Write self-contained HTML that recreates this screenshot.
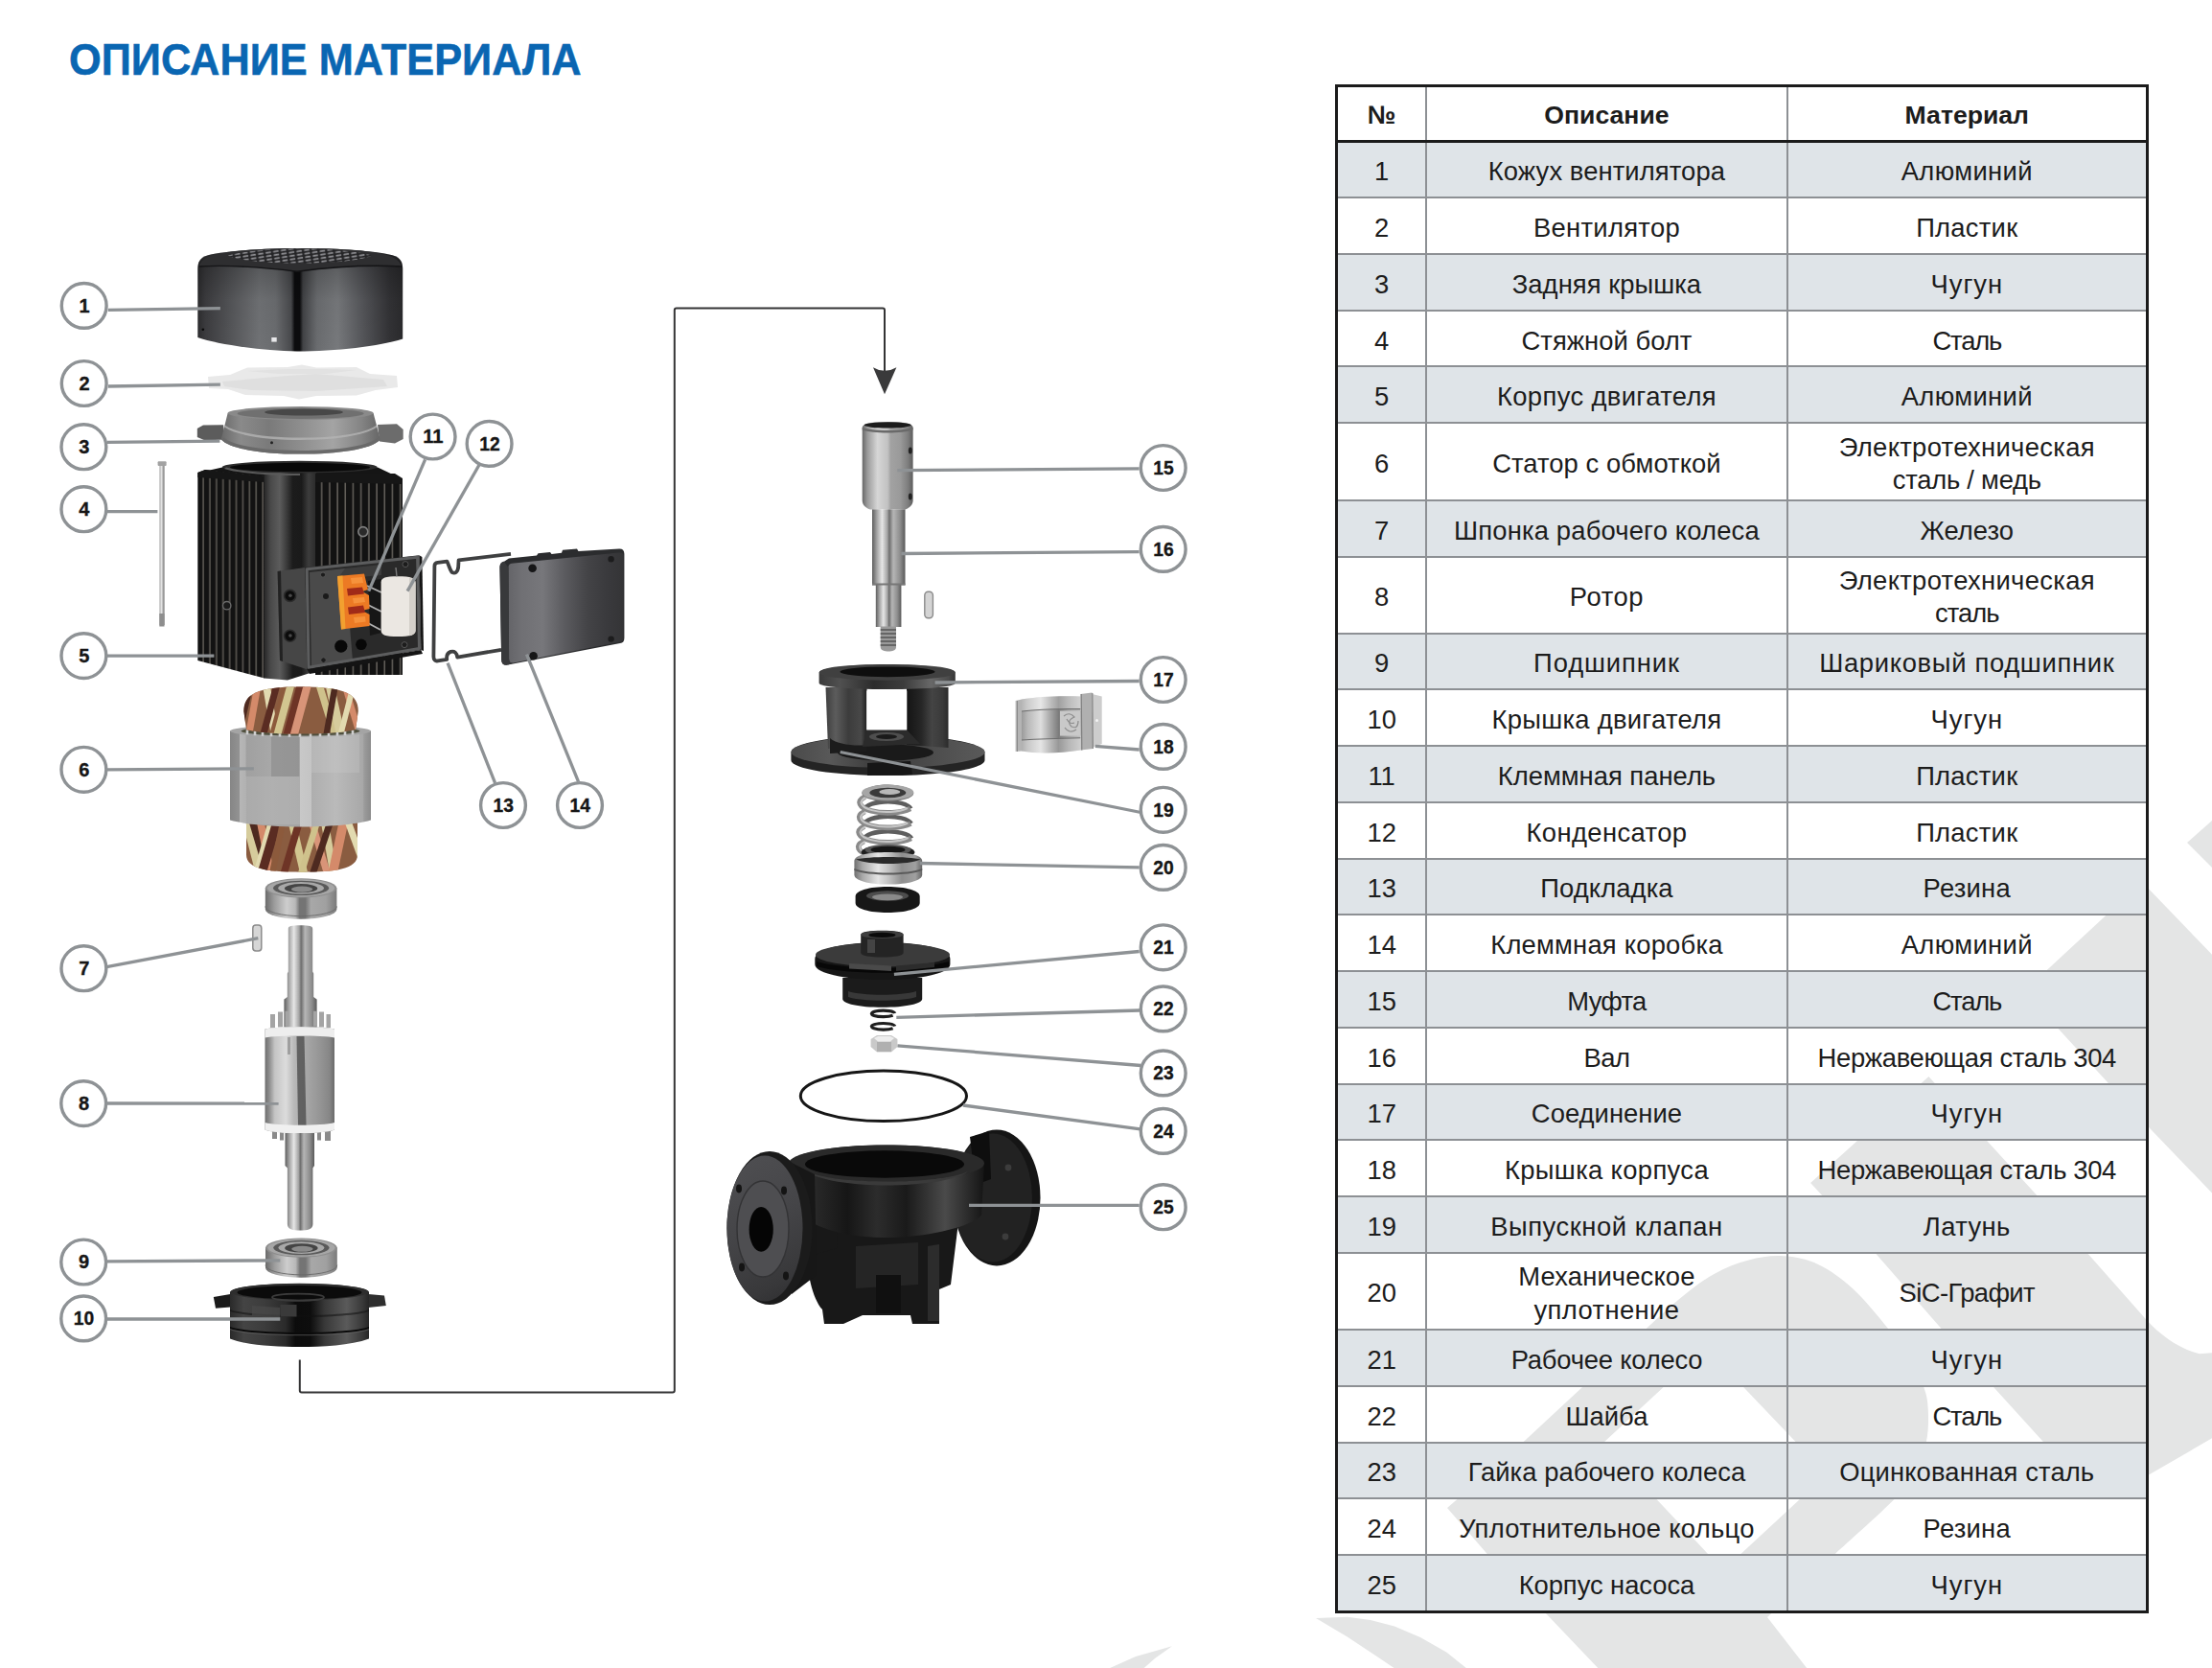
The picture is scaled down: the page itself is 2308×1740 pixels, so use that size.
<!DOCTYPE html>
<html><head><meta charset="utf-8"><title>Описание материала</title>
<style>
html,body{margin:0;padding:0;background:#fff}
body{width:2308px;height:1740px;position:relative;overflow:hidden;font-family:"Liberation Sans",sans-serif;color:#1c1c1c}
.c{position:absolute;display:flex;align-items:center;justify-content:center;text-align:center;line-height:34.3px;white-space:nowrap}
</style></head><body>
<svg style="position:absolute;left:0;top:0" width="2308" height="1740" viewBox="0 0 2308 1740"><g fill="#e4e5e5">
<path d="M2282.0,879.0 L2312.0,852.5 L2312.0,909.0Z" />
<path d="M2235.0,920.0 L2112.0,1034.0 L2146.8,1072.3 L2199.7,1129.8 L2244.5,1178.5 L2312.0,1248.6 L2312.0,1000.0Z" />
<path d="M2012.4,1123 L2072.7,1189.5 L2125.6,1247.2 L2178.7,1307.9 L2239.5,1376.7 C2254,1393 2276,1408 2295,1412.3 L2312,1411 L2312,1498 L2242,1538.6 C2203,1561 2165,1541 2131.9,1504 L2080.1,1446.9 L2026,1386.5 L1957,1307.6 L1901.4,1247.2 L1889.1,1233.9 Z"/>
<path fill-rule="evenodd" d="M1510,1573 L1590.5,1503.3 L1651.6,1446.5 C1662.7,1436.4 1701.2,1401.0 1718.0,1385.8 C1734.8,1370.6 1740.5,1364.6 1752.3,1355.1 C1764.0,1345.6 1776.4,1335.7 1788.5,1328.9 C1800.6,1322.1 1812.7,1317.5 1824.7,1314.4 C1836.8,1311.3 1848.8,1309.5 1860.8,1310.3 C1872.8,1311.0 1884.9,1313.2 1897.0,1318.9 C1909.1,1324.6 1921.2,1333.2 1933.2,1344.2 C1945.2,1355.2 1959.5,1372.7 1969.3,1385.0 C1979.1,1397.3 1985.7,1407.6 1992.0,1418.0 C1998.3,1428.4 2004.0,1438.5 2007.3,1447.3 C2010.6,1456.1 2011.3,1461.4 2011.8,1470.8 C2012.2,1480.2 2012.3,1492.4 2010.0,1503.4 C2007.7,1514.4 2003.7,1526.8 1998.0,1537.0 C1992.3,1547.2 1989.8,1550.5 1976.0,1564.5 C1962.2,1578.5 1925.1,1611.5 1914.9,1620.9 L1844,1687 L1889,1745 L1672,1745 L1611,1681 L1551.7,1620.9 Z M1780.0,1406.0 L1906.0,1538.0 L1798.0,1638.0 L1673.0,1505.0Z"/>
<path d="M1373.0,1688.0 L1405.8,1686.7 L1430.0,1690.0 L1455.0,1696.5 L1482.0,1708.0 L1509.6,1723.8 L1536.0,1745.0 L1462.0,1745.0 L1438.6,1729.3 L1405.8,1707.5Z" />
<path d="M1147.0,1745.0 L1185.0,1728.0 L1222.9,1717.3 L1205.0,1730.0 L1188.0,1745.0Z" />
</g></svg>
<div style="position:absolute;left:1393.0px;top:147.5px;width:849.0px;height:58.80000000000001px;background:#dfe4e8"></div>
<div style="position:absolute;left:1393.0px;top:264.9px;width:849.0px;height:58.900000000000034px;background:#dfe4e8"></div>
<div style="position:absolute;left:1393.0px;top:382.3px;width:849.0px;height:58.89999999999998px;background:#dfe4e8"></div>
<div style="position:absolute;left:1393.0px;top:522.0px;width:849.0px;height:58.700000000000045px;background:#dfe4e8"></div>
<div style="position:absolute;left:1393.0px;top:660.5px;width:849.0px;height:58.299999999999955px;background:#dfe4e8"></div>
<div style="position:absolute;left:1393.0px;top:777.9px;width:849.0px;height:59.0px;background:#dfe4e8"></div>
<div style="position:absolute;left:1393.0px;top:895.6px;width:849.0px;height:58.69999999999993px;background:#dfe4e8"></div>
<div style="position:absolute;left:1393.0px;top:1013.0px;width:849.0px;height:58.700000000000045px;background:#dfe4e8"></div>
<div style="position:absolute;left:1393.0px;top:1130.5px;width:849.0px;height:58.700000000000045px;background:#dfe4e8"></div>
<div style="position:absolute;left:1393.0px;top:1248.2px;width:849.0px;height:58.700000000000045px;background:#dfe4e8"></div>
<div style="position:absolute;left:1393.0px;top:1387.0px;width:849.0px;height:58.799999999999955px;background:#dfe4e8"></div>
<div style="position:absolute;left:1393.0px;top:1504.5px;width:849.0px;height:58.700000000000045px;background:#dfe4e8"></div>
<div style="position:absolute;left:1393.0px;top:1622.0px;width:849.0px;height:59.200000000000045px;background:#dfe4e8"></div>
<div style="position:absolute;left:1393.0px;top:205.3px;width:849.0px;height:2px;background:#8d9094"></div>
<div style="position:absolute;left:1393.0px;top:263.9px;width:849.0px;height:2px;background:#8d9094"></div>
<div style="position:absolute;left:1393.0px;top:322.8px;width:849.0px;height:2px;background:#8d9094"></div>
<div style="position:absolute;left:1393.0px;top:381.3px;width:849.0px;height:2px;background:#8d9094"></div>
<div style="position:absolute;left:1393.0px;top:440.2px;width:849.0px;height:2px;background:#8d9094"></div>
<div style="position:absolute;left:1393.0px;top:521.0px;width:849.0px;height:2px;background:#8d9094"></div>
<div style="position:absolute;left:1393.0px;top:579.7px;width:849.0px;height:2px;background:#8d9094"></div>
<div style="position:absolute;left:1393.0px;top:659.5px;width:849.0px;height:2px;background:#8d9094"></div>
<div style="position:absolute;left:1393.0px;top:717.8px;width:849.0px;height:2px;background:#8d9094"></div>
<div style="position:absolute;left:1393.0px;top:776.9px;width:849.0px;height:2px;background:#8d9094"></div>
<div style="position:absolute;left:1393.0px;top:835.9px;width:849.0px;height:2px;background:#8d9094"></div>
<div style="position:absolute;left:1393.0px;top:894.6px;width:849.0px;height:2px;background:#8d9094"></div>
<div style="position:absolute;left:1393.0px;top:953.3px;width:849.0px;height:2px;background:#8d9094"></div>
<div style="position:absolute;left:1393.0px;top:1012.0px;width:849.0px;height:2px;background:#8d9094"></div>
<div style="position:absolute;left:1393.0px;top:1070.7px;width:849.0px;height:2px;background:#8d9094"></div>
<div style="position:absolute;left:1393.0px;top:1129.5px;width:849.0px;height:2px;background:#8d9094"></div>
<div style="position:absolute;left:1393.0px;top:1188.2px;width:849.0px;height:2px;background:#8d9094"></div>
<div style="position:absolute;left:1393.0px;top:1247.2px;width:849.0px;height:2px;background:#8d9094"></div>
<div style="position:absolute;left:1393.0px;top:1305.9px;width:849.0px;height:2px;background:#8d9094"></div>
<div style="position:absolute;left:1393.0px;top:1386.0px;width:849.0px;height:2px;background:#8d9094"></div>
<div style="position:absolute;left:1393.0px;top:1444.8px;width:849.0px;height:2px;background:#8d9094"></div>
<div style="position:absolute;left:1393.0px;top:1503.5px;width:849.0px;height:2px;background:#8d9094"></div>
<div style="position:absolute;left:1393.0px;top:1562.2px;width:849.0px;height:2px;background:#8d9094"></div>
<div style="position:absolute;left:1393.0px;top:1621.0px;width:849.0px;height:2px;background:#8d9094"></div>
<div style="position:absolute;left:1487.3px;top:87.6px;width:2px;height:1595.1000000000001px;background:#8d9094"></div>
<div style="position:absolute;left:1863.6px;top:87.6px;width:2px;height:1595.1000000000001px;background:#8d9094"></div>
<div style="position:absolute;left:1393.0px;top:146.1px;width:849.0px;height:2.9px;background:#1b1b1b"></div>
<div style="position:absolute;left:1393.0px;top:87.6px;width:843.0px;height:1589.1000000000001px;border:3px solid #1b1b1b"></div>
<div class="c" style="left:1396.0px;top:91.39999999999999px;width:91.29999999999995px;height:58.400000000000006px;font-weight:bold;font-size:26.6px"><span>№</span></div>
<div class="c" style="left:1489.3px;top:91.39999999999999px;width:374.29999999999995px;height:58.400000000000006px;font-weight:bold;font-size:26.6px"><span>Описание</span></div>
<div class="c" style="left:1865.6px;top:91.39999999999999px;width:373.4000000000001px;height:58.400000000000006px;font-weight:bold;font-size:26.6px"><span>Материал</span></div>
<div class="c" style="left:1396.0px;top:150.2px;width:91.29999999999995px;height:58.80000000000001px;font-size:27.4px"><span>1</span></div>
<div class="c" style="left:1489.3px;top:150.2px;width:374.29999999999995px;height:58.80000000000001px;font-size:27.4px"><span><span style="letter-spacing:0.09px">Кожух вентилятора</span></span></div>
<div class="c" style="left:1865.6px;top:150.2px;width:373.4000000000001px;height:58.80000000000001px;font-size:27.4px"><span><span style="letter-spacing:0.34px">Алюминий</span></span></div>
<div class="c" style="left:1396.0px;top:209.0px;width:91.29999999999995px;height:58.599999999999966px;font-size:27.4px"><span>2</span></div>
<div class="c" style="left:1489.3px;top:209.0px;width:374.29999999999995px;height:58.599999999999966px;font-size:27.4px"><span><span style="letter-spacing:0.31px">Вентилятор</span></span></div>
<div class="c" style="left:1865.6px;top:209.0px;width:373.4000000000001px;height:58.599999999999966px;font-size:27.4px"><span><span style="letter-spacing:0.27px">Пластик</span></span></div>
<div class="c" style="left:1396.0px;top:267.59999999999997px;width:91.29999999999995px;height:58.900000000000034px;font-size:27.4px"><span>3</span></div>
<div class="c" style="left:1489.3px;top:267.59999999999997px;width:374.29999999999995px;height:58.900000000000034px;font-size:27.4px"><span><span style="letter-spacing:0.04px">Задняя крышка</span></span></div>
<div class="c" style="left:1865.6px;top:267.59999999999997px;width:373.4000000000001px;height:58.900000000000034px;font-size:27.4px"><span><span style="letter-spacing:0.93px">Чугун</span></span></div>
<div class="c" style="left:1396.0px;top:326.5px;width:91.29999999999995px;height:58.5px;font-size:27.4px"><span>4</span></div>
<div class="c" style="left:1489.3px;top:326.5px;width:374.29999999999995px;height:58.5px;font-size:27.4px"><span><span style="letter-spacing:0.02px">Стяжной болт</span></span></div>
<div class="c" style="left:1865.6px;top:326.5px;width:373.4000000000001px;height:58.5px;font-size:27.4px"><span><span style="letter-spacing:-1.2px">Сталь</span></span></div>
<div class="c" style="left:1396.0px;top:385.0px;width:91.29999999999995px;height:58.89999999999998px;font-size:27.4px"><span>5</span></div>
<div class="c" style="left:1489.3px;top:385.0px;width:374.29999999999995px;height:58.89999999999998px;font-size:27.4px"><span><span style="letter-spacing:0.37px">Корпус двигателя</span></span></div>
<div class="c" style="left:1865.6px;top:385.0px;width:373.4000000000001px;height:58.89999999999998px;font-size:27.4px"><span><span style="letter-spacing:0.34px">Алюминий</span></span></div>
<div class="c" style="left:1396.0px;top:443.9px;width:91.29999999999995px;height:80.80000000000001px;font-size:27.4px"><span>6</span></div>
<div class="c" style="left:1489.3px;top:443.9px;width:374.29999999999995px;height:80.80000000000001px;font-size:27.4px"><span><span style="letter-spacing:0.07px">Статор с обмоткой</span></span></div>
<div class="c" style="left:1865.6px;top:443.9px;width:373.4000000000001px;height:80.80000000000001px;font-size:27.4px"><span><span style="letter-spacing:0.31px">Электротехническая</span><br><span style="letter-spacing:-0.23px">сталь / медь</span></span></div>
<div class="c" style="left:1396.0px;top:524.7px;width:91.29999999999995px;height:58.700000000000045px;font-size:27.4px"><span>7</span></div>
<div class="c" style="left:1489.3px;top:524.7px;width:374.29999999999995px;height:58.700000000000045px;font-size:27.4px"><span><span style="letter-spacing:0.16px">Шпонка рабочего колеса</span></span></div>
<div class="c" style="left:1865.6px;top:524.7px;width:373.4000000000001px;height:58.700000000000045px;font-size:27.4px"><span>Железо</span></div>
<div class="c" style="left:1396.0px;top:583.4000000000001px;width:91.29999999999995px;height:79.79999999999995px;font-size:27.4px"><span>8</span></div>
<div class="c" style="left:1489.3px;top:583.4000000000001px;width:374.29999999999995px;height:79.79999999999995px;font-size:27.4px"><span><span style="letter-spacing:0.55px">Ротор</span></span></div>
<div class="c" style="left:1865.6px;top:583.4000000000001px;width:373.4000000000001px;height:79.79999999999995px;font-size:27.4px"><span><span style="letter-spacing:0.31px">Электротехническая</span><br><span style="letter-spacing:-1.0px">сталь</span></span></div>
<div class="c" style="left:1396.0px;top:663.2px;width:91.29999999999995px;height:58.299999999999955px;font-size:27.4px"><span>9</span></div>
<div class="c" style="left:1489.3px;top:663.2px;width:374.29999999999995px;height:58.299999999999955px;font-size:27.4px"><span><span style="letter-spacing:0.88px">Подшипник</span></span></div>
<div class="c" style="left:1865.6px;top:663.2px;width:373.4000000000001px;height:58.299999999999955px;font-size:27.4px"><span><span style="letter-spacing:0.67px">Шариковый подшипник</span></span></div>
<div class="c" style="left:1396.0px;top:721.5px;width:91.29999999999995px;height:59.10000000000002px;font-size:27.4px"><span>10</span></div>
<div class="c" style="left:1489.3px;top:721.5px;width:374.29999999999995px;height:59.10000000000002px;font-size:27.4px"><span><span style="letter-spacing:0.28px">Крышка двигателя</span></span></div>
<div class="c" style="left:1865.6px;top:721.5px;width:373.4000000000001px;height:59.10000000000002px;font-size:27.4px"><span><span style="letter-spacing:0.93px">Чугун</span></span></div>
<div class="c" style="left:1396.0px;top:780.6px;width:91.29999999999995px;height:59.0px;font-size:27.4px"><span>11</span></div>
<div class="c" style="left:1489.3px;top:780.6px;width:374.29999999999995px;height:59.0px;font-size:27.4px"><span>Клеммная панель</span></div>
<div class="c" style="left:1865.6px;top:780.6px;width:373.4000000000001px;height:59.0px;font-size:27.4px"><span><span style="letter-spacing:0.27px">Пластик</span></span></div>
<div class="c" style="left:1396.0px;top:839.6px;width:91.29999999999995px;height:58.700000000000045px;font-size:27.4px"><span>12</span></div>
<div class="c" style="left:1489.3px;top:839.6px;width:374.29999999999995px;height:58.700000000000045px;font-size:27.4px"><span><span style="letter-spacing:0.4px">Конденсатор</span></span></div>
<div class="c" style="left:1865.6px;top:839.6px;width:373.4000000000001px;height:58.700000000000045px;font-size:27.4px"><span><span style="letter-spacing:0.27px">Пластик</span></span></div>
<div class="c" style="left:1396.0px;top:898.3000000000001px;width:91.29999999999995px;height:58.69999999999993px;font-size:27.4px"><span>13</span></div>
<div class="c" style="left:1489.3px;top:898.3000000000001px;width:374.29999999999995px;height:58.69999999999993px;font-size:27.4px"><span><span style="letter-spacing:0.09px">Подкладка</span></span></div>
<div class="c" style="left:1865.6px;top:898.3000000000001px;width:373.4000000000001px;height:58.69999999999993px;font-size:27.4px"><span><span style="letter-spacing:0.24px">Резина</span></span></div>
<div class="c" style="left:1396.0px;top:957.0px;width:91.29999999999995px;height:58.700000000000045px;font-size:27.4px"><span>14</span></div>
<div class="c" style="left:1489.3px;top:957.0px;width:374.29999999999995px;height:58.700000000000045px;font-size:27.4px"><span><span style="letter-spacing:0.2px">Клеммная коробка</span></span></div>
<div class="c" style="left:1865.6px;top:957.0px;width:373.4000000000001px;height:58.700000000000045px;font-size:27.4px"><span><span style="letter-spacing:0.34px">Алюминий</span></span></div>
<div class="c" style="left:1396.0px;top:1015.7px;width:91.29999999999995px;height:58.700000000000045px;font-size:27.4px"><span>15</span></div>
<div class="c" style="left:1489.3px;top:1015.7px;width:374.29999999999995px;height:58.700000000000045px;font-size:27.4px"><span><span style="letter-spacing:-0.75px">Муфта</span></span></div>
<div class="c" style="left:1865.6px;top:1015.7px;width:373.4000000000001px;height:58.700000000000045px;font-size:27.4px"><span><span style="letter-spacing:-1.2px">Сталь</span></span></div>
<div class="c" style="left:1396.0px;top:1074.4px;width:91.29999999999995px;height:58.799999999999955px;font-size:27.4px"><span>16</span></div>
<div class="c" style="left:1489.3px;top:1074.4px;width:374.29999999999995px;height:58.799999999999955px;font-size:27.4px"><span><span style="letter-spacing:-0.5px">Вал</span></span></div>
<div class="c" style="left:1865.6px;top:1074.4px;width:373.4000000000001px;height:58.799999999999955px;font-size:27.4px"><span><span style="letter-spacing:-0.35px">Нержавеющая сталь 304</span></span></div>
<div class="c" style="left:1396.0px;top:1133.2px;width:91.29999999999995px;height:58.700000000000045px;font-size:27.4px"><span>17</span></div>
<div class="c" style="left:1489.3px;top:1133.2px;width:374.29999999999995px;height:58.700000000000045px;font-size:27.4px"><span><span style="letter-spacing:0.02px">Соединение</span></span></div>
<div class="c" style="left:1865.6px;top:1133.2px;width:373.4000000000001px;height:58.700000000000045px;font-size:27.4px"><span><span style="letter-spacing:0.93px">Чугун</span></span></div>
<div class="c" style="left:1396.0px;top:1191.9px;width:91.29999999999995px;height:59.0px;font-size:27.4px"><span>18</span></div>
<div class="c" style="left:1489.3px;top:1191.9px;width:374.29999999999995px;height:59.0px;font-size:27.4px"><span><span style="letter-spacing:0.35px">Крышка корпуса</span></span></div>
<div class="c" style="left:1865.6px;top:1191.9px;width:373.4000000000001px;height:59.0px;font-size:27.4px"><span><span style="letter-spacing:-0.35px">Нержавеющая сталь 304</span></span></div>
<div class="c" style="left:1396.0px;top:1250.9px;width:91.29999999999995px;height:58.700000000000045px;font-size:27.4px"><span>19</span></div>
<div class="c" style="left:1489.3px;top:1250.9px;width:374.29999999999995px;height:58.700000000000045px;font-size:27.4px"><span><span style="letter-spacing:0.55px">Выпускной клапан</span></span></div>
<div class="c" style="left:1865.6px;top:1250.9px;width:373.4000000000001px;height:58.700000000000045px;font-size:27.4px"><span><span style="letter-spacing:0.4px">Латунь</span></span></div>
<div class="c" style="left:1396.0px;top:1309.6000000000001px;width:91.29999999999995px;height:80.09999999999991px;font-size:27.4px"><span>20</span></div>
<div class="c" style="left:1489.3px;top:1309.6000000000001px;width:374.29999999999995px;height:80.09999999999991px;font-size:27.4px"><span><span style="letter-spacing:0.12px">Механическое</span><br><span style="letter-spacing:0.38px">уплотнение</span></span></div>
<div class="c" style="left:1865.6px;top:1309.6000000000001px;width:373.4000000000001px;height:80.09999999999991px;font-size:27.4px"><span><span style="letter-spacing:-0.6px">SiC-Графит</span></span></div>
<div class="c" style="left:1396.0px;top:1389.7px;width:91.29999999999995px;height:58.799999999999955px;font-size:27.4px"><span>21</span></div>
<div class="c" style="left:1489.3px;top:1389.7px;width:374.29999999999995px;height:58.799999999999955px;font-size:27.4px"><span><span style="letter-spacing:-0.22px">Рабочее колесо</span></span></div>
<div class="c" style="left:1865.6px;top:1389.7px;width:373.4000000000001px;height:58.799999999999955px;font-size:27.4px"><span><span style="letter-spacing:0.93px">Чугун</span></span></div>
<div class="c" style="left:1396.0px;top:1448.5px;width:91.29999999999995px;height:58.700000000000045px;font-size:27.4px"><span>22</span></div>
<div class="c" style="left:1489.3px;top:1448.5px;width:374.29999999999995px;height:58.700000000000045px;font-size:27.4px"><span>Шайба</span></div>
<div class="c" style="left:1865.6px;top:1448.5px;width:373.4000000000001px;height:58.700000000000045px;font-size:27.4px"><span><span style="letter-spacing:-1.2px">Сталь</span></span></div>
<div class="c" style="left:1396.0px;top:1507.2px;width:91.29999999999995px;height:58.700000000000045px;font-size:27.4px"><span>23</span></div>
<div class="c" style="left:1489.3px;top:1507.2px;width:374.29999999999995px;height:58.700000000000045px;font-size:27.4px"><span><span style="letter-spacing:0.03px">Гайка рабочего колеса</span></span></div>
<div class="c" style="left:1865.6px;top:1507.2px;width:373.4000000000001px;height:58.700000000000045px;font-size:27.4px"><span><span style="letter-spacing:0.12px">Оцинкованная сталь</span></span></div>
<div class="c" style="left:1396.0px;top:1565.9px;width:91.29999999999995px;height:58.799999999999955px;font-size:27.4px"><span>24</span></div>
<div class="c" style="left:1489.3px;top:1565.9px;width:374.29999999999995px;height:58.799999999999955px;font-size:27.4px"><span><span style="letter-spacing:0.28px">Уплотнительное кольцо</span></span></div>
<div class="c" style="left:1865.6px;top:1565.9px;width:373.4000000000001px;height:58.799999999999955px;font-size:27.4px"><span><span style="letter-spacing:0.24px">Резина</span></span></div>
<div class="c" style="left:1396.0px;top:1624.7px;width:91.29999999999995px;height:59.200000000000045px;font-size:27.4px"><span>25</span></div>
<div class="c" style="left:1489.3px;top:1624.7px;width:374.29999999999995px;height:59.200000000000045px;font-size:27.4px"><span><span style="letter-spacing:-0.07px">Корпус насоса</span></span></div>
<div class="c" style="left:1865.6px;top:1624.7px;width:373.4000000000001px;height:59.200000000000045px;font-size:27.4px"><span><span style="letter-spacing:0.93px">Чугун</span></span></div>
<svg style="position:absolute;left:0;top:0" width="2308" height="1740" viewBox="0 0 2308 1740">
<defs>
<linearGradient id="gCover" gradientUnits="userSpaceOnUse" x1="206" y1="0" x2="421" y2="0">
 <stop offset="0" stop-color="#2c2c2e"/><stop offset="0.04" stop-color="#3c3c3f"/><stop offset="0.15" stop-color="#525356"/>
 <stop offset="0.3" stop-color="#707275"/><stop offset="0.38" stop-color="#6a6c6f"/><stop offset="0.455" stop-color="#48494c"/>
 <stop offset="0.472" stop-color="#0c0c0e"/><stop offset="0.497" stop-color="#0c0c0e"/><stop offset="0.512" stop-color="#414245"/>
 <stop offset="0.58" stop-color="#6a6c6f"/><stop offset="0.68" stop-color="#77797c"/><stop offset="0.8" stop-color="#55565a"/>
 <stop offset="0.93" stop-color="#333336"/><stop offset="1" stop-color="#2a2a2c"/>
</linearGradient>
<linearGradient id="gCoverV" x1="0" y1="0" x2="0" y2="1">
 <stop offset="0" stop-color="#000" stop-opacity="0.4"/><stop offset="0.22" stop-color="#000" stop-opacity="0.2"/><stop offset="0.5" stop-color="#000" stop-opacity="0.04"/><stop offset="1" stop-color="#000" stop-opacity="0"/>
</linearGradient>
<linearGradient id="gSteelH" x1="0" y1="0" x2="1" y2="0">
 <stop offset="0" stop-color="#6f6f6f"/><stop offset="0.12" stop-color="#a8a8a8"/><stop offset="0.35" stop-color="#e4e4e4"/>
 <stop offset="0.5" stop-color="#c4c4c4"/><stop offset="0.7" stop-color="#8e8e8e"/><stop offset="0.9" stop-color="#a0a0a0"/><stop offset="1" stop-color="#666"/>
</linearGradient>
<linearGradient id="gRotor" x1="0" y1="0" x2="1" y2="0">
 <stop offset="0" stop-color="#6e6e6e"/><stop offset="0.06" stop-color="#8c8c8c"/><stop offset="0.14" stop-color="#c4c4c4"/><stop offset="0.3" stop-color="#dcdcdc"/>
 <stop offset="0.42" stop-color="#b8b8b8"/><stop offset="0.6" stop-color="#a6a6a6"/><stop offset="0.8" stop-color="#949494"/><stop offset="0.93" stop-color="#868686"/><stop offset="1" stop-color="#6a6a6a"/>
</linearGradient>
<linearGradient id="gCoup" x1="0" y1="0" x2="1" y2="0">
 <stop offset="0" stop-color="#666"/><stop offset="0.1" stop-color="#9a9a9a"/><stop offset="0.3" stop-color="#d6d6d6"/><stop offset="0.5" stop-color="#c2c2c2"/>
 <stop offset="0.56" stop-color="#a2a2a2"/><stop offset="0.75" stop-color="#9a9a9a"/><stop offset="0.9" stop-color="#7e7e7e"/><stop offset="1" stop-color="#5c5c5c"/>
</linearGradient>
<linearGradient id="gBear" x1="0" y1="0" x2="1" y2="0">
 <stop offset="0" stop-color="#6a6a6a"/><stop offset="0.12" stop-color="#9a9a9a"/><stop offset="0.3" stop-color="#cdcdcd"/><stop offset="0.42" stop-color="#b8b8b8"/>
 <stop offset="0.48" stop-color="#747474"/><stop offset="0.56" stop-color="#747474"/><stop offset="0.64" stop-color="#a8a8a8"/><stop offset="0.85" stop-color="#a0a0a0"/><stop offset="1" stop-color="#7a7a7a"/>
</linearGradient>
<linearGradient id="gShaft" x1="0" y1="0" x2="1" y2="0">
 <stop offset="0" stop-color="#5e5e5e"/><stop offset="0.14" stop-color="#a2a2a2"/><stop offset="0.3" stop-color="#e6e6e6"/>
 <stop offset="0.46" stop-color="#a4a4a4"/><stop offset="0.52" stop-color="#6e6e6e"/><stop offset="0.64" stop-color="#b6b6b6"/><stop offset="0.85" stop-color="#8c8c8c"/><stop offset="1" stop-color="#5a5a5a"/>
</linearGradient>
<linearGradient id="gStator" gradientUnits="userSpaceOnUse" x1="240" y1="0" x2="387" y2="0">
 <stop offset="0" stop-color="#868686"/><stop offset="0.065" stop-color="#929292"/><stop offset="0.07" stop-color="#b6b6b6"/><stop offset="0.11" stop-color="#b2b2b2"/>
 <stop offset="0.115" stop-color="#a0a0a0"/><stop offset="0.3" stop-color="#a8a8a8"/><stop offset="0.495" stop-color="#a4a4a4"/><stop offset="0.5" stop-color="#c8c8c8"/>
 <stop offset="0.575" stop-color="#c4c4c4"/><stop offset="0.58" stop-color="#aeaeae"/><stop offset="0.75" stop-color="#bababa"/><stop offset="0.945" stop-color="#a8a8a8"/>
 <stop offset="0.95" stop-color="#9c9c9c"/><stop offset="1" stop-color="#8a8a8a"/>
</linearGradient>
<linearGradient id="gLid" gradientUnits="userSpaceOnUse" x1="530" y1="0" x2="651" y2="0">
 <stop offset="0" stop-color="#646468"/><stop offset="0.12" stop-color="#707074"/><stop offset="0.3" stop-color="#77777b"/><stop offset="0.48" stop-color="#5c5c60"/>
 <stop offset="0.68" stop-color="#444447"/><stop offset="0.85" stop-color="#3a3a3d"/><stop offset="1" stop-color="#343436"/>
</linearGradient>
<linearGradient id="gBody" gradientUnits="userSpaceOnUse" x1="823" y1="0" x2="1027" y2="0">
 <stop offset="0" stop-color="#111"/><stop offset="0.12" stop-color="#2a2a2a"/><stop offset="0.3" stop-color="#161616"/><stop offset="0.45" stop-color="#2c2c2c"/>
 <stop offset="0.6" stop-color="#1a1a1a"/><stop offset="0.8" stop-color="#4a4a4a"/><stop offset="0.92" stop-color="#2a2a2a"/><stop offset="1" stop-color="#151515"/>
</linearGradient>
<linearGradient id="gFlangeL" gradientUnits="userSpaceOnUse" x1="758" y1="1200" x2="848" y2="1360">
 <stop offset="0" stop-color="#505053"/><stop offset="0.45" stop-color="#454548"/><stop offset="0.8" stop-color="#38383a"/><stop offset="1" stop-color="#2a2a2c"/>
</linearGradient>
<linearGradient id="gCol" gradientUnits="userSpaceOnUse" x1="275.5" y1="0" x2="330" y2="0">
 <stop offset="0" stop-color="#262626"/><stop offset="0.12" stop-color="#484848"/><stop offset="0.3" stop-color="#5c5c5c"/><stop offset="0.42" stop-color="#3e3e3e"/>
 <stop offset="0.55" stop-color="#1c1c1c"/><stop offset="0.72" stop-color="#1a1a1a"/><stop offset="0.85" stop-color="#3c3c3c"/><stop offset="1" stop-color="#2a2a2a"/>
</linearGradient>
<pattern id="fins" patternUnits="userSpaceOnUse" x="208" y="0" width="6.9" height="10">
 <rect x="0" y="0" width="6.9" height="10" fill="#121212"/><rect x="3.4" y="0" width="1.3" height="10" fill="#6a6660"/>
</pattern>
<pattern id="fins2" patternUnits="userSpaceOnUse" x="331" y="0" width="8.2" height="10">
 <rect x="0" y="0" width="8.2" height="10" fill="#121212"/><rect x="4" y="0" width="1.4" height="10" fill="#6a6660"/>
</pattern>
<pattern id="perf" patternUnits="userSpaceOnUse" x="0" y="0" width="8" height="3.6" patternTransform="rotate(-9)">
 <rect width="8" height="3.6" fill="#242426"/><rect x="0.4" y="0.6" width="5.8" height="1.9" rx="0.8" fill="#8e8e92"/>
</pattern>
</defs>


<g id="p1">
<path d="M206.3,352 L206.3,281 C206.3,273 208.5,269 217,266.2 C240,260.8 282,259 313,259 C346,259 386,260.8 409.5,266.2 C418,269 420.2,273 420.2,281 L420.2,353.4 C396,361 350,366.5 310,366.5 C272,365.5 228,359.5 206.3,352 Z" fill="url(#gCover)"/>
<path d="M206.3,352 L206.3,281 C206.3,273 208.5,269 217,266.2 C240,260.8 282,259 313,259 C346,259 386,260.8 409.5,266.2 C418,269 420.2,273 420.2,281 L420.2,353.4 C396,361 350,366.5 310,366.5 C272,365.5 228,359.5 206.3,352 Z" fill="url(#gCoverV)"/>
<path d="M207.5,278 C210,270 218,266.5 230,264.2 C256,260 290,259 313,259 C338,259 372,260 396,264.2 C408,266.5 416.5,270 419,278 C392,276.5 350,278 310,283.2 C268,278 232,276.5 207.5,278 Z" fill="#2e2e30"/>
<path d="M238,266.5 C258,261.2 290,259.6 313,259.6 C338,259.6 368,261.2 388,266.5 C380,271.5 346,274.6 313,274.6 C280,274.6 246,271.5 238,266.5 Z" fill="url(#perf)"/>
<path d="M207.5,278 C232,276.5 268,278 310,283.2 C350,278 392,276.5 419,278" fill="none" stroke="#141416" stroke-width="1.4"/>
<rect x="283.3" y="352" width="5.4" height="4.6" fill="#e8e8ea"/>
<circle cx="211.8" cy="343.8" r="1.3" fill="#0a0a0a"/>
</g>

<g id="p2">
<path d="M217,393 L240,391 L258,383.5 L300,383 L315,380.5 L330,383.5 L372,383 L386,390 L414,392 L415,404 L392,407 L372,412.5 L330,413 L312,416.5 L296,413 L256,412 L238,406 L218,405 Z" fill="#e9e9e9"/>
<path d="M232,398 L300,392 L330,390 L400,396 L404,403 L330,408 L262,407 L234,403 Z" fill="#dfdfdf"/>
<path d="M258,387 L300,385 L340,385 L372,386 L340,390 L290,390 Z" fill="#e2e2e2"/>
</g>

<g id="p3">
<defs><linearGradient id="gRC" gradientUnits="userSpaceOnUse" x1="231" y1="0" x2="397" y2="0">
 <stop offset="0" stop-color="#6a6a6a"/><stop offset="0.12" stop-color="#8a8a8a"/><stop offset="0.3" stop-color="#7a7a7a"/><stop offset="0.5" stop-color="#8e8e8e"/>
 <stop offset="0.7" stop-color="#a4a4a4"/><stop offset="0.88" stop-color="#848484"/><stop offset="1" stop-color="#666"/></linearGradient></defs>
<path d="M205.8,447 L212,443.4 L233,443.2 L235,458.6 L214,459.6 L205.8,456 Z" fill="#5c5c5c"/>
<path d="M394,443 L414,442.2 L420.7,448 L420.7,458 L412,462.6 L396,460.6 Z" fill="#6c6c6c"/>
<path d="M237.6,431 L230.8,458.4 C240,468.5 275,473.6 313.8,473.6 C352,473.6 388,468.5 396.8,458.4 L389.6,431 Z" fill="url(#gRC)"/>
<path d="M230.8,458.4 C240,468.5 275,473.6 313.8,473.6 C352,473.6 388,468.5 396.8,458.4 L396,455 C388,465 352,470 313.8,470 C275,470 240,465 231.6,455 Z" fill="#6a6a6a"/>
<path d="M234.6,443.4 C248,452.6 280,456.6 313.6,456.6 C348,456.6 380,452.6 392.8,443.4 L393.4,445.6 C380,455 348,459 313.6,459 C280,459 248,455 234,445.6 Z" fill="#b4b4b4" opacity="0.8"/>
<ellipse cx="313.6" cy="431" rx="76" ry="7" fill="#8a8a8a"/>
<ellipse cx="313.6" cy="431.4" rx="66" ry="5.6" fill="#707070"/>
<ellipse cx="317" cy="430" rx="41" ry="3.6" fill="#484848"/>
<circle cx="283.5" cy="461.8" r="1.5" fill="#222"/>
</g>

<g id="p4">
<rect x="166.3" y="484" width="5.2" height="168" fill="#b9b9b9"/>
<rect x="167.6" y="484" width="1.6" height="168" fill="#e2e2e2"/>
<rect x="170.3" y="484" width="1.2" height="168" fill="#8c8c8c"/>
<rect x="164.6" y="481.3" width="9" height="4.6" rx="1" fill="#a2a2a2"/>
<rect x="166.3" y="640" width="5.2" height="13.5" fill="#8e8e8e"/>
</g>

<g id="p5">
<!-- top rim -->

<path d="M232,487.5 L394,487.5 L414,497 L330,502 L276,502 L212,492 Z" fill="#151515"/>
<!-- left finned block -->
<path d="M206.3,493 L214,490 L276,497 L276,707.5 L206.3,689 Z" fill="url(#fins)"/>
<path d="M206.3,493 L214,490 L276,497 L276,503 L206.3,498 Z" fill="#161616"/>
<!-- central column -->
<path d="M275.5,491 L330,491 L330,700 L300,709.5 L275.5,707.5 Z" fill="url(#gCol)"/>
<!-- right finned block -->
<path d="M329,496 L412,497 L420,500 L420,704 L329,704 Z" fill="url(#fins2)"/>
<path d="M329,494 L412,494 L420,499 L420,505 L329,503 Z" fill="#161616"/>
<ellipse cx="312.7" cy="487.2" rx="80.8" ry="6.4" fill="#2c2c2c"/>
<ellipse cx="313" cy="487.4" rx="73" ry="4.6" fill="#080808"/>
<path d="M234,489 C250,494.5 290,496 313,496 L313,494 C290,494 252,492.5 236,487.5 Z" fill="#5a5a5a"/>
<circle cx="378.8" cy="554.6" r="5" fill="#2a2a2a" stroke="#808080" stroke-width="1.6"/>
<circle cx="236.7" cy="631.7" r="4.2" fill="#1a1a1a" stroke="#6a6a6a" stroke-width="1.4"/>
<!-- terminal box mount -->
<path d="M289.6,596 L318.4,592 L320.3,698.2 L292,689 Z" fill="#464646"/>
<path d="M289.6,596 L293,595.5 L295,690 L292,689 Z" fill="#222"/>
<circle cx="302.6" cy="621.4" r="6" fill="#0c0c0c" stroke="#2c2c2c" stroke-width="1.6"/>
<circle cx="302.6" cy="663.2" r="6" fill="#0c0c0c" stroke="#2c2c2c" stroke-width="1.6"/>
<circle cx="302.9" cy="621.2" r="1.8" fill="#4a4a4a"/><circle cx="302.9" cy="663" r="1.8" fill="#4a4a4a"/>
<!-- terminal box -->
<path d="M318.4,592 L437.4,579.2 L439.3,678 L320.3,698.2 Z" fill="#2a2a2a"/>
<path d="M323,597 L360,593 L368,690 L325,696 Z" fill="#565656" opacity="0.75"/>
<path d="M360,593 L398,589 L398,600 L352,604 Z" fill="#3c3c3c"/>
<path d="M320.2,593.8 L435.6,581.2 L437.5,676.4 L322,696.2 Z" fill="none" stroke="#5c5d5e" stroke-width="3" stroke-linejoin="round"/>
<path d="M437.4,579.2 L440.4,581 L442,679 L439.3,678 Z" fill="#151515"/>
<path d="M320.3,698.2 L439.3,678 L441,682 L323,703 Z" fill="#141414"/>
<!-- wires -->
<path d="M384,606 L398,604 L398,660 L386,663 Z" fill="#161616"/>
<path d="M383,611 L398,618 M384,631 L398,638 M384,650 L397,657" stroke="#b0b0b0" stroke-width="1.9"/>
<!-- orange connectors -->
<path d="M352,601 L380,598.4 L384,615 L378,617 L385,621 L385.6,635 L378,637 L385.6,641 L385.6,653 L356,656.4 Z" fill="#ec7a24"/>
<path d="M352,601 L357.5,600.5 L360.5,656 L356,656.4 Z" fill="#f2a030"/>
<path d="M362,614 L378,612.4 L380,619.6 L363,621.6 Z M363,633.4 L379,631.6 L381,639 L364,641 Z" fill="#a02a18"/>
<path d="M366,603 L378,602 L379,608 L367,609 Z M368,624 L380,623 L381,628 L369,629.4 Z M369,644 L381,643 L381.6,648.6 L370,650 Z" fill="#f6923c"/>
<!-- capacitor -->
<path d="M397.6,607.4 C397.6,602.8 402,601.3 415,601.3 C429,601.3 433.6,603.2 433.6,608 L433.6,657.4 C433.6,662.2 428,664.1 415,664.1 C402,664.1 397.6,662.2 397.6,657.4 Z" fill="#ebe7e2"/>
<path d="M427,602.4 C431.8,603.4 433.6,605.4 433.6,608 L433.6,657.4 C433.6,660.6 431.4,662.4 427,663.2 Z" fill="#d4d0ca"/>
<path d="M413,592 L414,601.4" stroke="#7a7a7a" stroke-width="1.4"/>
<!-- holes bottom -->
<circle cx="355.8" cy="674.2" r="6.6" fill="#080808"/><circle cx="376.9" cy="672.3" r="5.8" fill="#080808"/>
<circle cx="340" cy="622" r="3" fill="#1a1a1a"/>
<circle cx="423" cy="588.6" r="3" fill="#1c1c1c" stroke="#555" stroke-width="1"/><circle cx="337.5" cy="688.6" r="2.8" fill="#1c1c1c" stroke="#555" stroke-width="1"/>
<circle cx="422" cy="672.6" r="3" fill="#1c1c1c" stroke="#555" stroke-width="1"/><circle cx="337" cy="599.6" r="2.6" fill="#1c1c1c" stroke="#555" stroke-width="1"/>
</g>

<g id="p13">
<path d="M453.4,590.5 C453.4,588 454.6,587 456.6,586.8 L466.4,585.7 C468.4,589.5 468.9,593.5 471.4,596.8 C474.9,599 477.6,596.4 478.1,592.6 L478.6,584.4 L533,577.8 M453.4,590.5 L452.4,685 C452.4,688.6 454.3,689.8 456.8,689.4 L466.2,687.8 C465.7,684 466.7,681.2 470.2,679.9 C474.2,678.8 476.7,681 477.2,685.6 L523,677.8" fill="none" stroke="#3f4041" stroke-width="3.8" stroke-linejoin="round"/>
</g>
<g id="p14">
<path d="M521.5,592.5 C521.5,588 523,586.3 526,585.7 L531,582.4 L560,579.4 L561.5,577.2 L574,576 L575.5,577.9 L586,576.8 L587,573.8 L602,572.4 L603.5,575 L646,572.6 C649.5,572.4 651.3,574.3 651.4,577.8 L651.4,665.4 C651.4,668.9 650,670.4 647,671 L530,693.6 C525.5,694.2 523.4,692.5 523.2,688.5 Z" fill="#2b2c2e"/>
<path d="M530.5,592.3 C530.5,589.3 531.5,588.1 534,587.8 L646,576.4 C649.4,576.2 650.6,577.4 650.6,579.8 L650.6,664.8 C650.6,667.8 649.6,669 647,669.6 L535.5,691.4 C532.5,691.8 531.2,690.6 531.1,687.6 Z" fill="url(#gLid)"/>
<path d="M521.5,592.5 C521.5,588 523,586.3 526,585.7 L530.5,592.3 L531.1,687.6 C531.2,690.6 532.5,691.8 535.5,691.4 L530,693.6 C525.5,694.2 523.4,692.5 523.2,688.5 Z" fill="#38393b"/>
<circle cx="555.6" cy="592.8" r="4.3" fill="#161617"/><circle cx="637.6" cy="583.2" r="3.2" fill="#1c1c1d"/>
<circle cx="556.6" cy="684.2" r="4.3" fill="#161617"/><circle cx="637.6" cy="666.6" r="3.2" fill="#1c1c1d"/>
</g>
<g id="p6">
<g>
<clipPath id="wc2"><path d="M257,858 L257,891.605 C257,907.115 280.2,909.7 315.0,909.7 C349.8,909.7 373,907.115 373,891.605 L373,858 Z"/></clipPath>
<path d="M257,858 L257,891.605 C257,907.115 280.2,909.7 315.0,909.7 C349.8,909.7 373,907.115 373,891.605 L373,858 Z" fill="#8a5c40"/>
<g clip-path="url(#wc2)">
<path d="M256.7,854 L272.1,913.7" stroke="#d6cc9c" stroke-width="9.3"/>
<path d="M263.4,854 L281.0,913.7" stroke="#4e2a20" stroke-width="9.0"/>
<path d="M271.1,854 L282.8,913.7" stroke="#d48a6a" stroke-width="7.7"/>
<path d="M284.2,854 L267.1,913.7" stroke="#e2dab0" stroke-width="7.0"/>
<path d="M289.9,854 L272.4,913.7" stroke="#5a2c22" stroke-width="9.2"/>
<path d="M295.8,854 L283.5,913.7" stroke="#8c5a3c" stroke-width="6.2"/>
<path d="M303.9,854 L317.8,913.7" stroke="#d2c690" stroke-width="8.0"/>
<path d="M313.2,854 L295.5,913.7" stroke="#6e3426" stroke-width="7.5"/>
<path d="M324.3,854 L342.1,913.7" stroke="#d89478" stroke-width="7.0"/>
<path d="M331.9,854 L313.4,913.7" stroke="#cfc28c" stroke-width="6.6"/>
<path d="M338.2,854 L348.6,913.7" stroke="#d6cc9c" stroke-width="7.8"/>
<path d="M345.8,854 L325.6,913.7" stroke="#4e2a20" stroke-width="6.9"/>
<path d="M359.2,854 L346.6,913.7" stroke="#d48a6a" stroke-width="9.6"/>
<path d="M362.0,854 L383.8,913.7" stroke="#e2dab0" stroke-width="7.0"/>
</g></g>
<path d="M240,762.6 L387,762.6 L387,855.6 C370,860.6 340,862.6 313.5,862.6 C287,862.6 258,860.6 240,855.6 Z" fill="url(#gStator)"/>
<rect x="283" y="768" width="29" height="42" fill="#7e7e7e" opacity="0.42"/>
<rect x="256" y="810" width="57" height="50" fill="#c4c4c4" opacity="0.3"/>
<rect x="325" y="766" width="50" height="40" fill="#d0d0d0" opacity="0.25"/>
<ellipse cx="313.5" cy="762.6" rx="73.5" ry="6.2" fill="#a4a4a4"/>
<ellipse cx="313.5" cy="762.6" rx="62" ry="5" fill="#50503e"/>
<path d="M258,761.3 v5 M266,762.2 v5 M274,762.7 v5 M283,763.2 v5 M292,763.5 v5 M302,763.7 v5 M313,763.8 v5 M324,763.7 v5 M334,763.5 v5 M343,763.2 v5 M352,762.8 v5 M360,762.2 v5 M368,761.4 v5" stroke="#cfcfcf" stroke-width="2.6"/>
<clipPath id="wtop"><path d="M254.4,742 C254.4,724 268,716.5 313.5,716.5 C360,716.5 373.8,724 373.8,742 L371,761 C356,764.6 336,765.6 313.5,765.6 C291,765.6 271,764.6 257,761 Z"/></clipPath>
<g clip-path="url(#wtop)"><g>
<clipPath id="wc1"><path d="M252,768 L252,732.9 C252,716.7 276.8,714 314.0,714 C351.2,714 376,716.7 376,732.9 L376,768 Z"/></clipPath>
<path d="M252,768 L252,732.9 C252,716.7 276.8,714 314.0,714 C351.2,714 376,716.7 376,732.9 L376,768 Z" fill="#8a5c40"/>
<g clip-path="url(#wc1)">
<path d="M250.9,710 L236.2,772" stroke="#d6cc9c" stroke-width="5.2"/>
<path d="M262.8,710 L248.4,772" stroke="#4e2a20" stroke-width="5.3"/>
<path d="M269.8,710 L258.7,772" stroke="#d48a6a" stroke-width="7.1"/>
<path d="M277.0,710 L287.7,772" stroke="#e2dab0" stroke-width="7.8"/>
<path d="M290.1,710 L273.2,772" stroke="#5a2c22" stroke-width="7.0"/>
<path d="M299.1,710 L282.5,772" stroke="#8c5a3c" stroke-width="5.7"/>
<path d="M304.7,710 L287.8,772" stroke="#d2c690" stroke-width="7.8"/>
<path d="M315.1,710 L298.1,772" stroke="#6e3426" stroke-width="8.2"/>
<path d="M322.1,710 L305.3,772" stroke="#d89478" stroke-width="8.1"/>
<path d="M331.7,710 L351.0,772" stroke="#cfc28c" stroke-width="7.3"/>
<path d="M343.1,710 L356.7,772" stroke="#d6cc9c" stroke-width="9.0"/>
<path d="M350.6,710 L339.6,772" stroke="#4e2a20" stroke-width="6.5"/>
<path d="M358.3,710 L377.0,772" stroke="#d48a6a" stroke-width="6.4"/>
<path d="M370.0,710 L353.9,772" stroke="#e2dab0" stroke-width="5.8"/>
</g></g></g>
</g>
<g id="p789">

<g>
<path d="M276.8,926.4 L276.8,948.6 A37.3,10.1456 0 0 0 351.40000000000003,948.6 L351.40000000000003,926.4 Z" fill="url(#gBear)"/>
<ellipse cx="314.1" cy="926.4" rx="37.3" ry="10.1456" fill="#8e8e8e"/>
<ellipse cx="314.1" cy="926.4" rx="35.062" ry="9.13104" fill="#a6a6a6"/>
<ellipse cx="314.1" cy="926.4" rx="29.093999999999998" ry="7.710656" fill="#5a5a5a"/>
<ellipse cx="314.1" cy="926.4" rx="23.872" ry="6.290272" fill="#a8a8a8"/>
<ellipse cx="314.1" cy="926.6999999999999" rx="17.157999999999998" ry="4.666976" fill="#444"/>
<ellipse cx="315.1" cy="927.6" rx="11.19" ry="3.0436799999999997" fill="#8a8a8a"/>
<path d="M276.8,945.492 A37.3,10.1456 0 0 0 351.40000000000003,945.492" fill="none" stroke="#6a6a6a" stroke-width="0.9"/>
</g>
<rect x="263.8" y="965" width="9" height="27" rx="3.2" fill="#d6d6d6" stroke="#8c8c8c" stroke-width="1.5"/>
<path d="M300.8,969 C300.8,966 304,965.3 313.5,965.3 C323,965.3 326.2,966 326.2,969 L326.2,1013.5 L327.2,1015.5 L327.2,1040 L330.6,1042.5 L330.6,1075 L296.4,1075 L296.4,1042.5 L299.8,1040 L299.8,1015.5 L300.8,1013.5 Z" fill="url(#gShaft)"/>
<path d="M282,1058 h5 v14 h-5z M290,1055.5 h5 v16 h-5z M297.5,1054.8 h3.5 v16 h-3.5z M327,1054.8 h4 v16 h-4z M333,1055.5 h5 v16 h-5z M340.5,1058 h4.5 v14 h-4.5z" fill="#a4a4a4"/>
<path d="M284,1180 h5 v8 h-5z M292,1181 h4 v8.5 h-4z M331,1181 h4 v8.5 h-4z M339,1180 h6 v10 h-6z" fill="#8a8a8a"/>
<path d="M276.5,1073.4 C290,1070.4 336,1070.4 349,1073.4 L349,1178.4 C336,1183.4 290,1183.4 276.5,1178.4 Z" fill="url(#gRotor)"/>
<path d="M276.5,1073.4 C290,1070.4 336,1070.4 349,1073.4 L349,1082.4 C336,1080 290,1080 276.5,1082.4 Z" fill="#eeeeee"/>
<path d="M276.5,1171 C290,1174.6 336,1174.6 349,1171 L349,1178.4 C336,1183.4 290,1183.4 276.5,1178.4 Z" fill="#f0f0f0"/>
<path d="M309.5,1081 L317.5,1081 L319.5,1173.5 L311,1173.5 Z" fill="#4e4e4e" opacity="0.8"/>
<path d="M300,1082 L303,1082 L303,1100 L300,1100 Z" fill="#8a8a8a" opacity="0.7"/>
<path d="M297.5,1182 L328,1182 L328,1216 L326.4,1218.5 L326.4,1277 C326.4,1282.4 321,1283.6 313.2,1283.6 C305.4,1283.6 299.9,1282.4 299.9,1277 L299.9,1218.5 L297.5,1216 Z" fill="url(#gShaft)"/>

<g>
<path d="M277.0,1301.6 L277.0,1322.6 A37.4,10.1728 0 0 0 351.79999999999995,1322.6 L351.79999999999995,1301.6 Z" fill="url(#gBear)"/>
<ellipse cx="314.4" cy="1301.6" rx="37.4" ry="10.1728" fill="#8e8e8e"/>
<ellipse cx="314.4" cy="1301.6" rx="35.156" ry="9.155520000000001" fill="#a6a6a6"/>
<ellipse cx="314.4" cy="1301.6" rx="29.172" ry="7.731328" fill="#5a5a5a"/>
<ellipse cx="314.4" cy="1301.6" rx="23.936" ry="6.307136" fill="#a8a8a8"/>
<ellipse cx="314.4" cy="1301.8999999999999" rx="17.204" ry="4.679488" fill="#444"/>
<ellipse cx="315.4" cy="1302.8" rx="11.219999999999999" ry="3.05184" fill="#8a8a8a"/>
<path d="M277.0,1319.6599999999999 A37.4,10.1728 0 0 0 351.79999999999995,1319.6599999999999" fill="none" stroke="#6a6a6a" stroke-width="0.9"/>
</g>
</g>

<g id="p10">
<defs><linearGradient id="gMC" gradientUnits="userSpaceOnUse" x1="240" y1="0" x2="385" y2="0">
 <stop offset="0" stop-color="#2a2a2a"/><stop offset="0.1" stop-color="#444"/><stop offset="0.25" stop-color="#3c3c3c"/><stop offset="0.4" stop-color="#2a2a2a"/>
 <stop offset="0.47" stop-color="#0c0c0c"/><stop offset="0.58" stop-color="#0e0e0e"/><stop offset="0.68" stop-color="#383838"/><stop offset="0.84" stop-color="#5a5a5a"/>
 <stop offset="0.95" stop-color="#3a3a3a"/><stop offset="1" stop-color="#262626"/></linearGradient></defs>
<path d="M222.8,1353 L240.4,1350 L240.4,1363.4 L225,1364.8 Z" fill="#1a1a1a"/>
<path d="M384.4,1350 L401,1351.4 L402.8,1362 L384.4,1364 Z" fill="#2e2e2e"/>
<path d="M240,1348 C240,1343 270,1339 312.5,1339 C355,1339 385,1343 385,1348 L385,1396.5 C366,1403.6 336,1405 312,1405 C288,1405 258,1403.6 240,1396.5 Z" fill="url(#gMC)"/>
<ellipse cx="312.5" cy="1347.6" rx="71.6" ry="8.8" fill="#2e2e2e"/>
<ellipse cx="312.5" cy="1348.2" rx="65" ry="7.2" fill="#0b0b0b"/>
<ellipse cx="311" cy="1353.2" rx="27" ry="3.6" fill="none" stroke="#3c3c3c" stroke-width="1.8"/>
<path d="M240,1366 C262,1374 364,1374 385,1366 L385,1368 C364,1376 262,1376 240,1368 Z" fill="#111" opacity="0.55"/>
<path d="M240,1384 C262,1392 364,1392 385,1384 L385,1386 C364,1394 262,1394 240,1386 Z" fill="#0a0a0a"/>
<path d="M240,1386 C262,1394 364,1394 385,1386 L385,1387.2 C364,1395.2 262,1395.2 240,1387.2 Z" fill="#6a6a6a" opacity="0.5"/>
<path d="M263,1362 L292,1364 L292,1375 L263,1372.5 Z" fill="#4a4a4a" opacity="0.7"/>
<rect x="292.5" y="1361" width="17" height="12.5" fill="#3a3a3a"/>
</g>

<g id="flow" fill="none" stroke="#343435" stroke-width="2">
<path d="M312.8,1418.5 L312.8,1450.5 Q312.8,1452.5 314.8,1452.5 L701.8,1452.5 Q703.8,1452.5 703.8,1450.5 L703.8,323.5 Q703.8,321.5 705.8,321.5 L921,321.5 Q923,321.5 923,323.5 L923,392"/>
<path d="M923,411.2 L911,383.2 Q923,390.5 935.4,383.2 Z" fill="#3a3a3b" stroke="none"/>
</g>

<g id="p1516">
<path d="M899.7,446 C899.7,441.5 910,440 926,440 C942,440 952.6,441.5 952.6,446 L952.6,522 C952.6,527 948,530.5 944.5,531.5 L908,531.5 C904,530.5 899.7,527 899.7,522 Z" fill="url(#gCoup)"/>
<ellipse cx="926.2" cy="443.4" rx="24.5" ry="3.2" fill="#1c1c1c"/>
<path d="M899.7,446 C910,450 942,450 952.6,446 L952.6,448.5 C942,452.5 910,452.5 899.7,448.5 Z" fill="#6a6a6a"/>
<ellipse cx="949.8" cy="470" rx="2" ry="3.6" fill="#222"/><ellipse cx="949.8" cy="518" rx="2" ry="3.6" fill="#222"/>
<rect x="910" y="531.4" width="34.5" height="79" fill="url(#gShaft)"/>
<rect x="913.8" y="610" width="26.6" height="44" fill="url(#gShaft)"/>
<rect x="910" y="608.5" width="34.5" height="2" fill="#777"/>
<path d="M918.7,653.5 L935,653.5 L935,675 C935,678.5 931,679.5 927,679.5 C923,679.5 918.7,678.5 918.7,675 Z" fill="#9a9a9a"/>
<path d="M918.7,657 h16.3 M918.7,661 h16.3 M918.7,665 h16.3 M918.7,669 h16.3 M918.7,673 h16.3" stroke="#555" stroke-width="1.3"/>
<rect x="964.8" y="617.3" width="8.6" height="27.4" rx="3.6" fill="#d4d4d4" stroke="#8a8a8a" stroke-width="1.4"/>
</g>

<g id="p17">
<defs>
<linearGradient id="gBrRing" gradientUnits="userSpaceOnUse" x1="855" y1="0" x2="997" y2="0">
 <stop offset="0" stop-color="#3a3a3a"/><stop offset="0.15" stop-color="#505050"/><stop offset="0.4" stop-color="#2c2c2c"/><stop offset="0.62" stop-color="#3c3c3c"/>
 <stop offset="0.82" stop-color="#686868"/><stop offset="0.95" stop-color="#4a4a4a"/><stop offset="1" stop-color="#333"/>
</linearGradient>
<linearGradient id="gBrFl" gradientUnits="userSpaceOnUse" x1="825" y1="0" x2="1028" y2="0">
 <stop offset="0" stop-color="#4a4a4a"/><stop offset="0.2" stop-color="#585858"/><stop offset="0.45" stop-color="#3a3a3a"/><stop offset="0.75" stop-color="#4e4e4e"/><stop offset="1" stop-color="#5a5a5a"/>
</linearGradient>
<linearGradient id="gBrPl" gradientUnits="userSpaceOnUse" x1="861" y1="0" x2="905" y2="0">
 <stop offset="0" stop-color="#3e3e3e"/><stop offset="0.25" stop-color="#5c5c5c"/><stop offset="0.55" stop-color="#3c3c3c"/><stop offset="0.85" stop-color="#484848"/><stop offset="1" stop-color="#1c1c1c"/>
</linearGradient>
<linearGradient id="gBrPr" gradientUnits="userSpaceOnUse" x1="946" y1="0" x2="990" y2="0">
 <stop offset="0" stop-color="#141414"/><stop offset="0.35" stop-color="#262626"/><stop offset="0.6" stop-color="#444"/><stop offset="0.85" stop-color="#3a3a3a"/><stop offset="1" stop-color="#2a2a2a"/>
</linearGradient>
</defs>
<!-- bottom flange -->
<path d="M825.4,785 C825.4,775 870,767.6 926,767.6 C984,767.6 1027.5,775 1027.5,785 L1027.5,793 C1027.5,802 984,809 926,809 C870,809 825.4,802 825.4,793 Z" fill="#242424"/>
<ellipse cx="926.5" cy="784.5" rx="101" ry="16.4" fill="url(#gBrFl)"/>
<ellipse cx="924" cy="785" rx="50" ry="8.6" fill="#1a1a1a"/>
<path d="M905,796 L950,794 L952,808 L905,809 Z" fill="#161616"/>
<!-- pillars -->
<path d="M861.5,717 L904.5,717 L904.5,778 L864,781 Z" fill="url(#gBrPl)"/>
<path d="M946,717 L989.5,717 L989.5,780 L946,777 Z" fill="url(#gBrPr)"/>
<path d="M866,770 C872,776 892,779 904.5,777 L904.5,784 L866,786 Z" fill="#1c1c1c"/>
<!-- window back -->
<path d="M904.2,720.5 L946.3,720.5 L946.3,761.5 L904.2,761.5 Z" fill="#ffffff"/>
<path d="M904.2,761.5 L946.3,761.5 L960,776 L900,779 Z" fill="#2b2b2b"/>
<ellipse cx="925" cy="768.5" rx="18" ry="4.6" fill="#4e4e4e"/><ellipse cx="925" cy="768.5" rx="11" ry="2.6" fill="#1a1a1a"/>
<!-- top ring -->
<path d="M854.6,702 C854.6,696 884,693 925.5,693 C968,693 996.8,696 996.8,702 L996.8,712.5 C996.8,716.5 968,719 925.5,719 C884,719 854.6,716.5 854.6,712.5 Z" fill="url(#gBrRing)"/>
<ellipse cx="925.7" cy="701.5" rx="71" ry="8.2" fill="#404040"/>
<ellipse cx="926" cy="700.8" rx="49.5" ry="5.4" fill="#0e0e0e"/>
</g>

<g id="p18">
<defs>
<linearGradient id="gCl" gradientUnits="userSpaceOnUse" x1="1066" y1="0" x2="1128" y2="0">
 <stop offset="0" stop-color="#9a9a9a"/><stop offset="0.1" stop-color="#b8b8b8"/><stop offset="0.32" stop-color="#dedede"/><stop offset="0.48" stop-color="#a8a8a8"/>
 <stop offset="0.62" stop-color="#7c7c7c"/><stop offset="0.8" stop-color="#a4a4a4"/><stop offset="1" stop-color="#c2c2c2"/>
</linearGradient>
</defs>
<path d="M1059.6,731 L1066,729.5 L1066,783.5 L1059.6,784 Z" fill="#b4b4b4"/>
<path d="M1061.5,731 L1061.5,784" stroke="#8a8a8a" stroke-width="1"/>
<path d="M1066,729.5 C1082,726.6 1106,725.6 1127.5,726.4 L1127.5,782.4 C1106,786 1082,786.4 1066,783.5 Z" fill="url(#gCl)"/>
<path d="M1066,729.5 C1082,726.6 1106,725.6 1127.5,726.4 L1127.5,739.6 C1106,739.2 1082,740 1066,742 Z" fill="#fff" opacity="0.28"/>
<path d="M1066,772 C1082,771 1106,770.2 1127.5,769.8 L1127.5,782.4 C1106,786 1082,786.4 1066,783.5 Z" fill="#fff" opacity="0.22"/>
<path d="M1066,742 C1082,740 1106,739.2 1127.5,739.6 M1066,772 C1082,771 1106,770.2 1127.5,769.8" fill="none" stroke="#6e6e6e" stroke-width="1.1"/>
<rect x="1106" y="741.6" width="22.5" height="26" fill="#c9c9c9"/>
<path d="M1110,747 q6,-5 11,1 q-9,4 -3,10 q7,3 7,-6 M1111,759 q5,7 12,2 M1113,750 q3,6 8,4" fill="none" stroke="#8e8e8e" stroke-width="1.2"/>
<path d="M1127.5,724 L1139.5,722.6 L1140.5,781 L1127.5,782.6 Z" fill="#b0b0b0"/>
<path d="M1139.5,724 L1149.7,726.5 L1149.7,776 L1140.5,779.5 Z" fill="#cdcdcd"/>
<path d="M1128.2,724 L1128.8,782.4 M1139.8,723 L1140.3,781" stroke="#808080" stroke-width="1.2"/>
<circle cx="1144.5" cy="751.5" r="1.5" fill="#f4f4f4"/>
</g>
<g id="p20">
<path d="M902.6999999999999,831 A23.6,8.6 0 0 1 949.9,828" fill="none" stroke="#5e5e5e" stroke-width="4.6"/>
<path d="M902.3,846.5 A24,8.6 0 0 1 950.3,843.5" fill="none" stroke="#5e5e5e" stroke-width="4.6"/>
<path d="M901.9,862 A24.4,8.6 0 0 1 950.6999999999999,859" fill="none" stroke="#5e5e5e" stroke-width="4.6"/>
<path d="M901.5,877.5 A24.8,8.6 0 0 1 951.0999999999999,874.5" fill="none" stroke="#5e5e5e" stroke-width="4.6"/>
<path d="M902.6999999999999,831 A23.6,8.6 0 0 0 949.9,843.5" fill="none" stroke="#8a8a8a" stroke-width="5.6"/>
<path d="M903.6999999999999,831.5 A23.6,8.6 0 0 0 946.9,843" fill="none" stroke="#c6c6c6" stroke-width="2"/>
<path d="M902.3,846.5 A24,8.6 0 0 0 950.3,859.0" fill="none" stroke="#8a8a8a" stroke-width="5.6"/>
<path d="M903.3,847.0 A24,8.6 0 0 0 947.3,858.5" fill="none" stroke="#c6c6c6" stroke-width="2"/>
<path d="M901.9,862 A24.4,8.6 0 0 0 950.6999999999999,874.5" fill="none" stroke="#8a8a8a" stroke-width="5.6"/>
<path d="M902.9,862.5 A24.4,8.6 0 0 0 947.6999999999999,874" fill="none" stroke="#c6c6c6" stroke-width="2"/>
<path d="M901.5,877.5 A24.8,8.6 0 0 0 951.0999999999999,890.0" fill="none" stroke="#8a8a8a" stroke-width="5.6"/>
<path d="M902.5,878.0 A24.8,8.6 0 0 0 948.0999999999999,889.5" fill="none" stroke="#c6c6c6" stroke-width="2"/>
<ellipse cx="926.3" cy="827.5" rx="27" ry="8.4" fill="#7c7c7c"/>
<ellipse cx="926.3" cy="826.6" rx="27" ry="8" fill="#a6a6a6"/>
<ellipse cx="926.3" cy="827" rx="19" ry="5.2" fill="#3a3a3a"/>
<ellipse cx="928.3" cy="826" rx="11" ry="3" fill="#b8b8b8"/>
<ellipse cx="926.5" cy="889" rx="28" ry="7.4" fill="#1e1e1e"/>
<ellipse cx="926.5" cy="886.5" rx="24" ry="5.6" fill="#565656"/>
<ellipse cx="926.5" cy="886.5" rx="18" ry="3.8" fill="#161616"/>
<path d="M891.4,898 C891.4,892 906,889 926.5,889 C948,889 962.2,892 962.2,898 L962.2,912.5 C962.2,918.5 948,922.6 926.5,922.6 C906,922.6 891.4,918.5 891.4,912.5 Z" fill="url(#gSteelH)"/>
<path d="M893,896.5 C906,902.5 948,902.5 960.6,896.5 C948,893 906,893 893,896.5 Z" fill="#2a2a2a"/>
<path d="M891.4,906 C906,912 948,912 962.2,906 L962.2,908 C948,914 906,914 891.4,908 Z" fill="#5a5a5a"/>
<path d="M892.6,935 C892.6,929 907,925 926,925 C945,925 959.7,929 959.7,935 L959.7,942 C959.7,948 945,952 926,952 C907,952 892.6,948 892.6,942 Z" fill="#171717"/>
<ellipse cx="926" cy="934.5" rx="22" ry="5.2" fill="#4c4c4c"/><ellipse cx="926" cy="935.8" rx="16" ry="3.4" fill="#8a8a8a"/>
</g>

<g id="p21">
<path d="M879.2,1020 L962.2,1020 L962.2,1042 C962.2,1047 945,1050.8 920.5,1050.8 C896,1050.8 879.2,1047 879.2,1042 Z" fill="#1b1b1b"/>
<path d="M885,1034 C900,1039 940,1039 956,1034 L956,1040 C940,1045 900,1045 885,1040 Z" fill="#383838"/>
<path d="M850.3,1000 C850.3,990 880,983 921,983 C962,983 991.4,990 991.4,1000 L991.4,1006 C991.4,1015 962,1022 921,1022 C880,1022 850.3,1015 850.3,1006 Z" fill="#161616"/>
<ellipse cx="921" cy="996" rx="70" ry="12.4" fill="#3b3b3b"/>
<path d="M852,1003 C880,1012 962,1012 990,1003 L990,1008 C962,1017 880,1017 852,1008 Z" fill="#070707"/>
<path d="M886,1005 L930,1007.4 L930,1013 L886,1010.6 Z" fill="#4a4a4a"/><path d="M935,1007.5 L975,1004 L975,1009 L935,1013 Z" fill="#2c2c2c"/>
<path d="M898.2,975 C898.2,972 908,970.8 920.4,970.8 C933,970.8 942.6,972 942.6,975 L942.6,994 C942.6,997 933,998.5 920.4,998.5 C908,998.5 898.2,997 898.2,994 Z" fill="#242424"/>
<ellipse cx="920.4" cy="975" rx="22.2" ry="4" fill="#3e3e3e"/><ellipse cx="920.4" cy="975.4" rx="14" ry="2.6" fill="#0a0a0a"/>
<path d="M905,980 h8 v14 h-8z" fill="#444"/>
</g>

<g id="p2224">
<path d="M931.59,1059.29 A12.2,3.3 0 1 1 933.75,1057.11" fill="none" stroke="#1e1e1e" stroke-width="3.2"/>
<path d="M931.59,1072.69 A12.2,3.3 0 1 1 933.75,1070.51" fill="none" stroke="#1e1e1e" stroke-width="3.2"/>
<path d="M908.6,1084 L915,1080 L930,1080 L936.4,1084 L936.4,1092 L930,1097.5 L915,1097.5 L908.6,1092 Z" fill="#c9c9c9"/>
<path d="M912,1083 L916,1081 L929,1081 L933,1083 L929,1086.5 L916,1086.5 Z" fill="#eeeeee"/>
<path d="M915,1087 L930,1087 L930,1097 L915,1097 Z" fill="#b0b0b0"/>
<ellipse cx="921.9" cy="1143.3" rx="86.6" ry="26.2" fill="none" stroke="#161616" stroke-width="3"/>
</g>

<g id="p25">
<!-- right flange -->
<ellipse cx="1040" cy="1249.5" rx="45.5" ry="71" fill="#151515"/>
<ellipse cx="1036" cy="1249.5" rx="41" ry="67" fill="#222222"/>
<path d="M1012,1186 L1032,1180 L1034,1230 L1018,1236 Z" fill="#0e0e0e"/>
<circle cx="1052" cy="1218" r="3.4" fill="#3c3c3c"/><circle cx="1049" cy="1290" r="3.4" fill="#3c3c3c"/>
<!-- lower volute / feet -->
<path d="M836,1240 L862,1240 L862,1285 L1000,1275 L992,1340 L980,1345 L980,1381 L952,1381 L950,1372 L900,1372 L880,1381 L860,1381 L858,1366 C846,1352 840,1320 842,1285 Z" fill="#181818"/>
<path d="M893,1300 L958,1296 L958,1340 L893,1344 Z" fill="#252525"/>
<path d="M914,1330 h26 v40 h-26z" fill="#101010"/>
<path d="M968,1300 L980,1298 L980,1378 L968,1378 Z" fill="#2c2c2c"/>
<path d="M836,1236 L872,1258 L874,1302 L838,1312 Z" fill="#181818"/>
<!-- bowl -->
<path d="M823,1215 C823,1203 868,1194.5 925,1194.5 C982,1194.5 1026.8,1203 1026.8,1215 L1024,1268 C1010,1282 960,1291 925,1291 C890,1291 856,1284 840,1270 Z" fill="url(#gBody)"/>
<ellipse cx="925" cy="1213.5" rx="102" ry="19" fill="#2a2a2a"/>
<ellipse cx="923" cy="1214.5" rx="83" ry="14.2" fill="#090909"/>
<path d="M842,1222 C870,1236 982,1236 1010,1222 C1000,1231 960,1236.5 925,1236.5 C890,1236.5 852,1231 842,1222 Z" fill="#3a3a3a"/>
<!-- left flange -->
<path d="M820,1210 L850,1225 L852,1330 L826,1350 Z" fill="#171717"/>
<ellipse cx="803" cy="1281" rx="44.6" ry="80" fill="#1b1b1b"/>
<ellipse cx="798" cy="1281.5" rx="39.5" ry="76" fill="url(#gFlangeL)"/>
<ellipse cx="796" cy="1282" rx="27" ry="50" fill="#4e4e51" stroke="#333335" stroke-width="1.4"/>
<ellipse cx="794.2" cy="1282.4" rx="12.6" ry="23.4" fill="#050505"/>
<ellipse cx="771" cy="1240" rx="3" ry="4.4" fill="#141414"/><ellipse cx="818" cy="1242" rx="3" ry="4.4" fill="#141414"/>
<ellipse cx="774" cy="1322" rx="3" ry="4.4" fill="#141414"/><ellipse cx="820" cy="1331" rx="3" ry="4.4" fill="#141414"/>
</g>
<g id="leaders" stroke="#8e9295" stroke-width="3.3" fill="none">
<path d="M112.8,323.4 L229.9,321.6"/>
<path d="M112.8,403 L229.9,401.2"/>
<path d="M111.9,461.4 L229.4,460.2"/>
<path d="M111.9,533.6 L164.4,533.6"/>
<path d="M111.9,684.1 L223.4,684.1"/>
<path d="M111.9,802.8 L264.8,801.9"/>
<path d="M111.3,1008.7 L269.3,978.7"/>
<path d="M112,1151 L290.6,1151.1"/>
<path d="M111.6,1315.8 L292.3,1314.8"/>
<path d="M111.6,1376 L292.3,1376"/>
<path d="M443.6,479.4 L384.7,616.6"/>
<path d="M500.1,484.8 L425.1,616.6"/>
<path d="M516.6,816.9 L467.1,691.6"/>
<path d="M603.5,815.4 L549.5,682.6"/>
<path d="M1188.6,488.8 L936.3,490.7"/>
<path d="M1188.6,575.6 L940.4,577.5"/>
<path d="M1188.7,710.5 L975.6,712"/>
<path d="M1188.7,782 L1142.8,778.4"/>
<path d="M1190.4,847.5 L876.7,784.5"/>
<path d="M1188.7,904.9 L959.7,900.5"/>
<path d="M1188.7,992.5 L932.9,1016.4"/>
<path d="M1189.2,1054 L935.3,1061.3"/>
<path d="M1190.4,1111.5 L936.5,1090.8"/>
<path d="M1191.6,1178.2 L1004.9,1153"/>
<path d="M1188.7,1257.3 L1011,1257.3"/>
</g><g id="circles">
<circle cx="87.7" cy="318.9" r="23.4" fill="#fff" stroke="#8e9295" stroke-width="3.4"/>
<text x="88.0" y="325.84999999999997" text-anchor="middle" font-family="Liberation Sans, sans-serif" font-weight="bold" font-size="20" fill="#161616" stroke="#161616" stroke-width="0.35" >1</text>
<circle cx="87.7" cy="400.0" r="23.4" fill="#fff" stroke="#8e9295" stroke-width="3.4"/>
<text x="88.0" y="406.95" text-anchor="middle" font-family="Liberation Sans, sans-serif" font-weight="bold" font-size="20" fill="#161616" stroke="#161616" stroke-width="0.35" >2</text>
<circle cx="87.4" cy="466.2" r="23.4" fill="#fff" stroke="#8e9295" stroke-width="3.4"/>
<text x="87.7" y="473.15" text-anchor="middle" font-family="Liberation Sans, sans-serif" font-weight="bold" font-size="20" fill="#161616" stroke="#161616" stroke-width="0.35" >3</text>
<circle cx="87.4" cy="531.2" r="23.4" fill="#fff" stroke="#8e9295" stroke-width="3.4"/>
<text x="87.7" y="538.1500000000001" text-anchor="middle" font-family="Liberation Sans, sans-serif" font-weight="bold" font-size="20" fill="#161616" stroke="#161616" stroke-width="0.35" >4</text>
<circle cx="87.4" cy="684.1" r="23.4" fill="#fff" stroke="#8e9295" stroke-width="3.4"/>
<text x="87.7" y="691.0500000000001" text-anchor="middle" font-family="Liberation Sans, sans-serif" font-weight="bold" font-size="20" fill="#161616" stroke="#161616" stroke-width="0.35" >5</text>
<circle cx="87.4" cy="802.8" r="23.4" fill="#fff" stroke="#8e9295" stroke-width="3.4"/>
<text x="87.7" y="809.75" text-anchor="middle" font-family="Liberation Sans, sans-serif" font-weight="bold" font-size="20" fill="#161616" stroke="#161616" stroke-width="0.35" >6</text>
<circle cx="87.4" cy="1010.2" r="23.4" fill="#fff" stroke="#8e9295" stroke-width="3.4"/>
<text x="87.7" y="1017.1500000000001" text-anchor="middle" font-family="Liberation Sans, sans-serif" font-weight="bold" font-size="20" fill="#161616" stroke="#161616" stroke-width="0.35" >7</text>
<circle cx="87.2" cy="1151.1" r="23.4" fill="#fff" stroke="#8e9295" stroke-width="3.4"/>
<text x="87.5" y="1158.05" text-anchor="middle" font-family="Liberation Sans, sans-serif" font-weight="bold" font-size="20" fill="#161616" stroke="#161616" stroke-width="0.35" >8</text>
<circle cx="87.2" cy="1316.5" r="23.4" fill="#fff" stroke="#8e9295" stroke-width="3.4"/>
<text x="87.5" y="1323.45" text-anchor="middle" font-family="Liberation Sans, sans-serif" font-weight="bold" font-size="20" fill="#161616" stroke="#161616" stroke-width="0.35" >9</text>
<circle cx="87.2" cy="1375.4" r="23.4" fill="#fff" stroke="#8e9295" stroke-width="3.4"/>
<text x="87.5" y="1382.3500000000001" text-anchor="middle" font-family="Liberation Sans, sans-serif" font-weight="bold" font-size="20" fill="#161616" stroke="#161616" stroke-width="0.35" textLength="21.4" lengthAdjust="spacingAndGlyphs">10</text>
<circle cx="451.6" cy="455.5" r="23.4" fill="#fff" stroke="#8e9295" stroke-width="3.4"/>
<text x="451.90000000000003" y="462.45" text-anchor="middle" font-family="Liberation Sans, sans-serif" font-weight="bold" font-size="20" fill="#161616" stroke="#161616" stroke-width="0.35" textLength="21.4" lengthAdjust="spacingAndGlyphs">11</text>
<circle cx="510.6" cy="462.9" r="23.4" fill="#fff" stroke="#8e9295" stroke-width="3.4"/>
<text x="510.90000000000003" y="469.84999999999997" text-anchor="middle" font-family="Liberation Sans, sans-serif" font-weight="bold" font-size="20" fill="#161616" stroke="#161616" stroke-width="0.35" textLength="21.4" lengthAdjust="spacingAndGlyphs">12</text>
<circle cx="525" cy="840" r="23.4" fill="#fff" stroke="#8e9295" stroke-width="3.4"/>
<text x="525.3" y="846.95" text-anchor="middle" font-family="Liberation Sans, sans-serif" font-weight="bold" font-size="20" fill="#161616" stroke="#161616" stroke-width="0.35" textLength="21.4" lengthAdjust="spacingAndGlyphs">13</text>
<circle cx="605" cy="840" r="23.4" fill="#fff" stroke="#8e9295" stroke-width="3.4"/>
<text x="605.3" y="846.95" text-anchor="middle" font-family="Liberation Sans, sans-serif" font-weight="bold" font-size="20" fill="#161616" stroke="#161616" stroke-width="0.35" textLength="21.4" lengthAdjust="spacingAndGlyphs">14</text>
<circle cx="1213.7" cy="488" r="23.4" fill="#fff" stroke="#8e9295" stroke-width="3.4"/>
<text x="1214.0" y="494.95" text-anchor="middle" font-family="Liberation Sans, sans-serif" font-weight="bold" font-size="20" fill="#161616" stroke="#161616" stroke-width="0.35" textLength="21.4" lengthAdjust="spacingAndGlyphs">15</text>
<circle cx="1213.7" cy="572.9" r="23.4" fill="#fff" stroke="#8e9295" stroke-width="3.4"/>
<text x="1214.0" y="579.85" text-anchor="middle" font-family="Liberation Sans, sans-serif" font-weight="bold" font-size="20" fill="#161616" stroke="#161616" stroke-width="0.35" textLength="21.4" lengthAdjust="spacingAndGlyphs">16</text>
<circle cx="1213.7" cy="709" r="23.4" fill="#fff" stroke="#8e9295" stroke-width="3.4"/>
<text x="1214.0" y="715.95" text-anchor="middle" font-family="Liberation Sans, sans-serif" font-weight="bold" font-size="20" fill="#161616" stroke="#161616" stroke-width="0.35" textLength="21.4" lengthAdjust="spacingAndGlyphs">17</text>
<circle cx="1213.7" cy="778.9" r="23.4" fill="#fff" stroke="#8e9295" stroke-width="3.4"/>
<text x="1214.0" y="785.85" text-anchor="middle" font-family="Liberation Sans, sans-serif" font-weight="bold" font-size="20" fill="#161616" stroke="#161616" stroke-width="0.35" textLength="21.4" lengthAdjust="spacingAndGlyphs">18</text>
<circle cx="1213.7" cy="844.8" r="23.4" fill="#fff" stroke="#8e9295" stroke-width="3.4"/>
<text x="1214.0" y="851.75" text-anchor="middle" font-family="Liberation Sans, sans-serif" font-weight="bold" font-size="20" fill="#161616" stroke="#161616" stroke-width="0.35" textLength="21.4" lengthAdjust="spacingAndGlyphs">19</text>
<circle cx="1213.7" cy="904.9" r="23.4" fill="#fff" stroke="#8e9295" stroke-width="3.4"/>
<text x="1214.0" y="911.85" text-anchor="middle" font-family="Liberation Sans, sans-serif" font-weight="bold" font-size="20" fill="#161616" stroke="#161616" stroke-width="0.35" textLength="21.4" lengthAdjust="spacingAndGlyphs">20</text>
<circle cx="1213.7" cy="988.3" r="23.4" fill="#fff" stroke="#8e9295" stroke-width="3.4"/>
<text x="1214.0" y="995.25" text-anchor="middle" font-family="Liberation Sans, sans-serif" font-weight="bold" font-size="20" fill="#161616" stroke="#161616" stroke-width="0.35" textLength="21.4" lengthAdjust="spacingAndGlyphs">21</text>
<circle cx="1213.7" cy="1052.4" r="23.4" fill="#fff" stroke="#8e9295" stroke-width="3.4"/>
<text x="1214.0" y="1059.3500000000001" text-anchor="middle" font-family="Liberation Sans, sans-serif" font-weight="bold" font-size="20" fill="#161616" stroke="#161616" stroke-width="0.35" textLength="21.4" lengthAdjust="spacingAndGlyphs">22</text>
<circle cx="1213.7" cy="1119.4" r="23.4" fill="#fff" stroke="#8e9295" stroke-width="3.4"/>
<text x="1214.0" y="1126.3500000000001" text-anchor="middle" font-family="Liberation Sans, sans-serif" font-weight="bold" font-size="20" fill="#161616" stroke="#161616" stroke-width="0.35" textLength="21.4" lengthAdjust="spacingAndGlyphs">23</text>
<circle cx="1213.7" cy="1179.9" r="23.4" fill="#fff" stroke="#8e9295" stroke-width="3.4"/>
<text x="1214.0" y="1186.8500000000001" text-anchor="middle" font-family="Liberation Sans, sans-serif" font-weight="bold" font-size="20" fill="#161616" stroke="#161616" stroke-width="0.35" textLength="21.4" lengthAdjust="spacingAndGlyphs">24</text>
<circle cx="1213.7" cy="1259.2" r="23.4" fill="#fff" stroke="#8e9295" stroke-width="3.4"/>
<text x="1214.0" y="1266.15" text-anchor="middle" font-family="Liberation Sans, sans-serif" font-weight="bold" font-size="20" fill="#161616" stroke="#161616" stroke-width="0.35" textLength="21.4" lengthAdjust="spacingAndGlyphs">25</text>
</g></svg>
<div style="position:absolute;left:72.3px;top:34.2px;font-weight:bold;font-size:45.9px;line-height:56px;color:#0a66b2;-webkit-text-stroke:0.55px #0a66b2;white-space:nowrap;transform-origin:0 0;transform:scaleX(0.9435)">ОПИСАНИЕ МАТЕРИАЛА</div>
</body></html>
